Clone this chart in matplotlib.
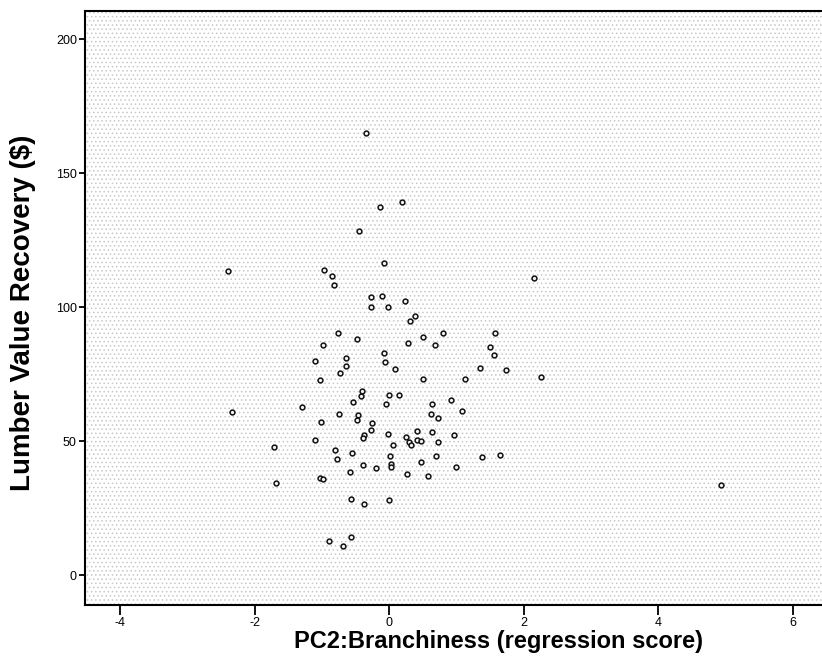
import numpy as np
import matplotlib
matplotlib.use("Agg")
import matplotlib.pyplot as plt
from matplotlib.patches import Rectangle

## data ##
pc2_score = [
    -0.34, 0.19, -0.14, -0.45, -0.07, -0.97, -0.85,
    -0.82, -0.27, -0.10, 0.23, -0.27, -0.02, 0.38, 0.31, -0.76, -0.48,
    0.50, 0.80, 0.28, 0.68, -0.98, -0.07, -1.11, -0.64, -0.06, -0.64,
    -0.73, 0.09, -1.03, 0.50, 1.13, -0.41, -0.42, -0.01, 0.14, -0.54,
    -0.04, 0.64, 0.92, -1.30, -0.74, -0.47, 0.62, 1.08, -0.48, 0.73,
    -1.01, -0.25, -0.27, 0.42, 0.63, -0.38, -0.02, 0.25, 0.97, -0.39,
    -1.10, 0.41,
    -1.72, 0.06, 0.30, 0.32, 0.48, 0.72, -0.80, -0.55, 0.01, 0.69,
    -0.77, 0.47, -0.39, -0.19, 0.03, 0.03, 0.99, -0.58, 0.27, 0.57,
    -1.69, -1.03, -0.99, -0.57, -0.37, -0.01, -0.57, -0.89, -0.68,
    -2.40, -2.33,
    2.16, 1.57, 1.50, 1.56, 1.35, 1.74, 2.26, 1.38, 1.65, 4.93,
]
lumber_value = [
    164.9, 139.3, 137.3, 128.3, 116.4, 113.9, 111.8,
    108.3, 103.8, 104.3, 102.4, 99.9, 99.9, 96.8, 94.8, 90.2, 88.0,
    88.9, 90.3, 86.5, 85.8, 86.0, 82.9, 80.0, 81.1, 79.4, 77.9,
    75.6, 77.0, 72.9, 73.3, 73.3, 68.8, 66.7, 67.2, 67.2, 64.7,
    63.7, 64.0, 65.2, 62.8, 60.1, 59.9, 60.1, 61.2, 57.9, 58.7,
    57.1, 56.9, 54.1, 53.9, 53.3, 52.2, 52.6, 51.6, 52.4, 51.0,
    50.5, 50.3,
    47.9, 48.7, 49.5, 48.4, 50.0, 49.6, 46.5, 45.4, 44.4, 44.4,
    43.4, 42.2, 41.0, 40.1, 41.5, 40.2, 40.5, 38.5, 37.6, 36.8,
    34.2, 36.1, 35.9, 28.3, 26.7, 27.9, 14.2, 12.7, 11.0,
    113.4, 61.0,
    111.0, 90.3, 85.0, 82.1, 77.2, 76.7, 73.8, 44.1, 45.0, 33.6,
]
x_ticks = [-4, -2, 0, 2, 4, 6]
y_ticks = [0, 50, 100, 150, 200]

plt.rcParams['font.family'] = ['Liberation Sans', 'DejaVu Sans']
plt.rcParams['axes.unicode_minus'] = False
plt.rcParams['hatch.linewidth'] = 0.6

fig = plt.figure(figsize=(8.22, 6.65), dpi=100)
ax = fig.add_axes([0.1028, 0.0902, 0.8972, 0.894])

# stippled grey background like the scanned print
bg = Rectangle((0, 0), 1, 1, transform=ax.transAxes, facecolor='white',
               edgecolor='#c8c8c8', linewidth=0, hatch='....', zorder=0)
ax.add_patch(bg)

ax.scatter(pc2_score, lumber_value, s=12, facecolor='#f4f4f4',
           edgecolor='#111111', linewidth=1.1, zorder=3)

ax.set_xlim(-4.53, 6.435)
ax.set_ylim(-11.2, 210.8)
ax.set_xticks(x_ticks)
ax.set_yticks(y_ticks)
ax.tick_params(axis='x', length=7, width=1.3, labelsize=9, pad=1.5)
ax.tick_params(axis='y', length=4.5, width=1.3, labelsize=9, pad=1)

for side in ['left', 'bottom', 'top']:
    ax.spines[side].set_linewidth(1.5)
ax.spines['right'].set_visible(False)

# the scan is cropped on the right, so the x label sits right of the axes centre
ax.set_xlabel("PC2:Branchiness (regression score)", fontsize=17,
              fontweight='bold')
ax.xaxis.set_label_coords(0.561, -0.042)
ax.set_ylabel("Lumber Value Recovery ($)", fontsize=20,
              fontweight='bold')
ax.yaxis.set_label_coords(-0.066, 0.491)

fig.savefig("out.png", dpi=100)
